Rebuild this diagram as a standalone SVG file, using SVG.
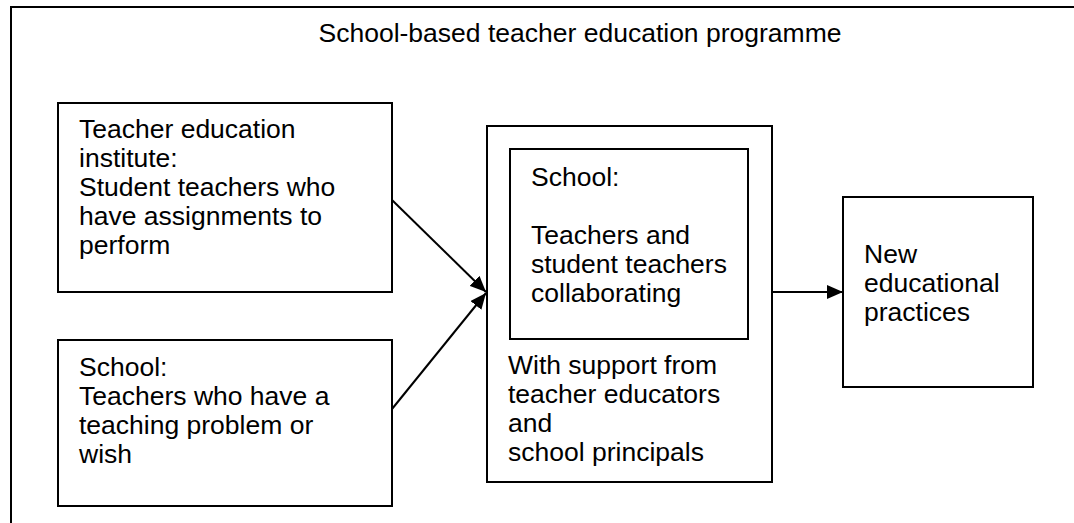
<svg xmlns="http://www.w3.org/2000/svg" width="1074" height="523" viewBox="0 0 1074 523">
  <style>
    .box { fill: #ffffff; stroke: #000000; stroke-width: 2; }
    .frame { fill: none; stroke: #000000; stroke-width: 2; }
    .label { font-family: "Liberation Sans", Arial, sans-serif; font-size: 26.5px; fill: #000000; }
    .link { fill: none; stroke: #000000; stroke-width: 2; }
  </style>
  <defs>
    <marker id="arrow" viewBox="0 0 16 14" refX="16" refY="7" markerWidth="16" markerHeight="14" markerUnits="userSpaceOnUse" orient="auto">
      <path d="M0,0 L16,7 L0,14 Z" fill="#000000"/>
    </marker>
  </defs>
  <rect width="1074" height="523" fill="#ffffff"/>

  <!-- programme frame, running past the right and bottom edges -->
  <g id="programme">
    <path class="frame" d="M11,530 L11,7 L1080,7"/>
    <text class="label" x="580" y="42" text-anchor="middle">School-based teacher education programme</text>
  </g>

  <g id="institute">
    <rect class="box" x="58" y="103" width="334" height="189"/>
    <text class="label" x="79" y="138">
      <tspan x="79" y="138">Teacher education</tspan>
      <tspan x="79" y="167">institute:</tspan>
      <tspan x="79" y="196">Student teachers who</tspan>
      <tspan x="79" y="225">have assignments to</tspan>
      <tspan x="79" y="254">perform</tspan>
    </text>
  </g>

  <g id="school-teachers">
    <rect class="box" x="58" y="340" width="334" height="166"/>
    <text class="label">
      <tspan x="79" y="376">School:</tspan>
      <tspan x="79" y="405">Teachers who have a</tspan>
      <tspan x="79" y="434">teaching problem or</tspan>
      <tspan x="79" y="463">wish</tspan>
    </text>
  </g>

  <g id="collaboration">
    <rect class="box" x="487" y="126" width="285" height="356"/>
    <rect class="box" x="510" y="149" width="238" height="190"/>
    <text class="label">
      <tspan x="531" y="186">School:</tspan>
      <tspan x="531" y="244">Teachers and</tspan>
      <tspan x="531" y="273">student teachers</tspan>
      <tspan x="531" y="302">collaborating</tspan>
    </text>
    <text class="label">
      <tspan x="508" y="374">With support from</tspan>
      <tspan x="508" y="403">teacher educators</tspan>
      <tspan x="508" y="432">and</tspan>
      <tspan x="508" y="461">school principals</tspan>
    </text>
  </g>

  <g id="practices">
    <rect class="box" x="843" y="197" width="190" height="190"/>
    <text class="label">
      <tspan x="864" y="263">New</tspan>
      <tspan x="864" y="292">educational</tspan>
      <tspan x="864" y="321">practices</tspan>
    </text>
  </g>

  <g id="connectors">
    <line class="link" x1="392" y1="200" x2="486" y2="292" marker-end="url(#arrow)"/>
    <line class="link" x1="392" y1="409" x2="486" y2="293" marker-end="url(#arrow)"/>
    <line class="link" x1="772" y1="292" x2="843" y2="292" marker-end="url(#arrow)"/>
  </g>
</svg>
